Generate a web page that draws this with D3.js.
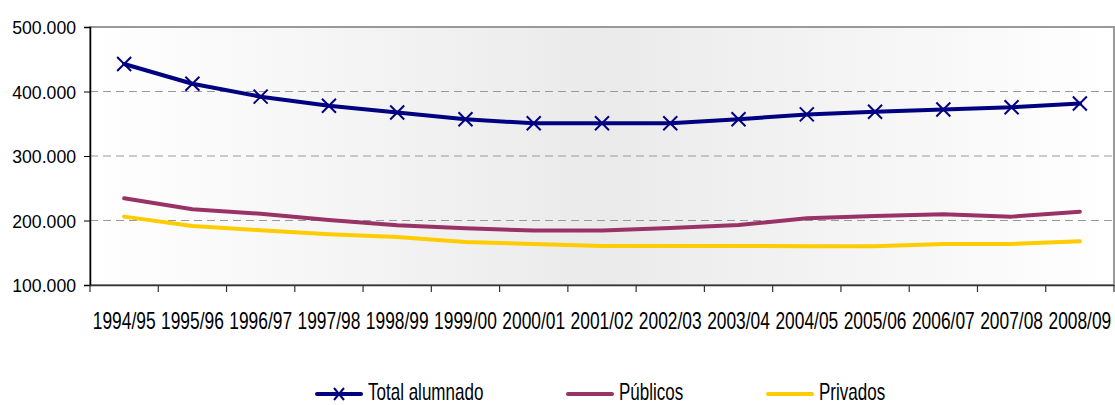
<!DOCTYPE html>
<html>
<head>
<meta charset="utf-8">
<script src="https://cdn.jsdelivr.net/npm/d3@7"></script>
<style>
  body { margin: 0; background: #fff; }
  svg text { font-family: "Liberation Sans", Arial, sans-serif; fill: #000; }
</style>
</head>
<body>
<svg id="chart" width="1115" height="405"></svg>
<script>
// data
var cursos = ["1994/95", "1995/96", "1996/97", "1997/98", "1998/99", "1999/00", "2000/01",
              "2001/02", "2002/03", "2003/04", "2004/05", "2005/06", "2006/07", "2007/08", "2008/09"];
var total    = [442600, 412000, 392000, 378000, 367500, 357000, 350700, 350800, 350900, 357000, 364500, 368500, 372000, 375500, 381500];
var publicos = [234500, 217500, 210500, 200800, 192500, 188000, 184500, 184500, 188500, 193000, 203400, 207000, 209600, 206000, 213700];
var privados = [206000, 191500, 185000, 178600, 174500, 166800, 163600, 160500, 160500, 160500, 160000, 160000, 163600, 163600, 167700];
var yTicks = [100000, 200000, 300000, 400000, 500000];

var series = [
  {key: "Total alumnado", values: total,    color: "#000080", marker: true},
  {key: "Públicos",       values: publicos, color: "#993366", marker: false},
  {key: "Privados",       values: privados, color: "#FFCC00", marker: false}
];

var svg = d3.select("#chart");
var plotLeft = 90, plotRight = 1114, plotTop = 27, plotBottom = 285;
var narrow = "scale(0.74,1)";   // Arial Narrow look-alike
var yNarrow = "scale(0.93,1)";

var x = d3.scaleBand().domain(cursos).range([plotLeft, plotRight]);
var y = d3.scaleLinear().domain([100000, 500000]).range([plotBottom, plotTop]);

var fmt = function(d) { return d3.format(",")(d).replace(/,/g, "."); };

// plot background gradient
var grad = svg.append("defs").append("linearGradient").attr("id", "bg");
grad.append("stop").attr("offset", "0%").attr("stop-color", "#ffffff");
grad.append("stop").attr("offset", "50%").attr("stop-color", "#eaeaea");
grad.append("stop").attr("offset", "100%").attr("stop-color", "#ffffff");

svg.append("rect")
  .attr("x", plotLeft).attr("y", plotTop)
  .attr("width", plotRight - plotLeft).attr("height", plotBottom - plotTop)
  .attr("fill", "url(#bg)")
  .attr("stroke", "#999").attr("stroke-width", 2);

// dashed gridlines
svg.append("g").selectAll("line")
  .data(yTicks.slice(1, -1))
  .join("line")
  .attr("x1", plotLeft).attr("x2", plotRight)
  .attr("y1", function(d) { return y(d); }).attr("y2", function(d) { return y(d); })
  .attr("stroke", "#999").attr("stroke-width", 1.2)
  .attr("stroke-dasharray", "8,5");

// axes
var yAxis = svg.append("g")
  .attr("transform", "translate(" + plotLeft + ",0)")
  .call(d3.axisLeft(y).tickValues(yTicks).tickFormat(fmt).tickSize(6).tickPadding(4));
yAxis.select(".domain").attr("stroke", "#000").attr("stroke-width", 1.5);
yAxis.selectAll(".tick line").attr("stroke", "#000");
yAxis.selectAll("text")
  .style("font-size", "19px")
  .attr("x", -15).attr("dy", "0.36em")
  .attr("transform", yNarrow);

var xAxis = svg.append("g")
  .attr("transform", "translate(0," + plotBottom + ")")
  .call(d3.axisBottom(x).tickSize(0).tickPadding(27));
xAxis.select(".domain").attr("stroke", "#333").attr("stroke-width", 1.5);
xAxis.selectAll("text")
  .style("font-size", "23.5px")
  .attr("transform", narrow);

// category separators on x axis
svg.append("g").selectAll("line")
  .data(d3.range(cursos.length + 1))
  .join("line")
  .attr("x1", function(i) { return plotLeft + i * x.step(); })
  .attr("x2", function(i) { return plotLeft + i * x.step(); })
  .attr("y1", plotBottom).attr("y2", plotBottom + 7)
  .attr("stroke", "#333").attr("stroke-width", 1.2);

var cx = function(i) { return x(cursos[i]) + x.bandwidth() / 2; };
var line = d3.line()
  .x(function(d, i) { return cx(i); })
  .y(function(d) { return y(d); });

// draw back to front so the total line stays on top
series.slice().reverse().forEach(function(s) {
  svg.append("path")
    .datum(s.values)
    .attr("d", line)
    .attr("fill", "none")
    .attr("stroke", s.color)
    .attr("stroke-width", 4)
    .attr("stroke-linejoin", "round")
    .attr("stroke-linecap", "round");

  if (s.marker) {
    svg.append("g").selectAll("path")
      .data(s.values)
      .join("path")
      .attr("d", function(d, i) {
        var px = cx(i), py = y(d), r = 7;
        return "M" + (px - r) + "," + (py - r) + "L" + (px + r) + "," + (py + r) +
               "M" + (px - r) + "," + (py + r) + "L" + (px + r) + "," + (py - r);
      })
      .attr("stroke", s.color)
      .attr("stroke-width", 2);
  }
});

// legend
var legendPos = [317, 568, 768];
var legend = svg.append("g").selectAll("g")
  .data(series)
  .join("g")
  .attr("transform", function(d, i) { return "translate(" + legendPos[i] + ",394)"; });

legend.append("line")
  .attr("x1", 0).attr("x2", 44)
  .attr("stroke", function(d) { return d.color; })
  .attr("stroke-width", 4)
  .attr("stroke-linecap", "round");

legend.filter(function(d) { return d.marker; })
  .append("path")
  .attr("d", "M17,-6L27,6M17,6L27,-6")
  .attr("stroke", function(d) { return d.color; })
  .attr("stroke-width", 2);

legend.append("g")
  .attr("transform", "translate(51,0) " + narrow)
  .append("text")
  .attr("y", 6)
  .style("font-size", "23px")
  .text(function(d) { return d.key; });
</script>
</body>
</html>
